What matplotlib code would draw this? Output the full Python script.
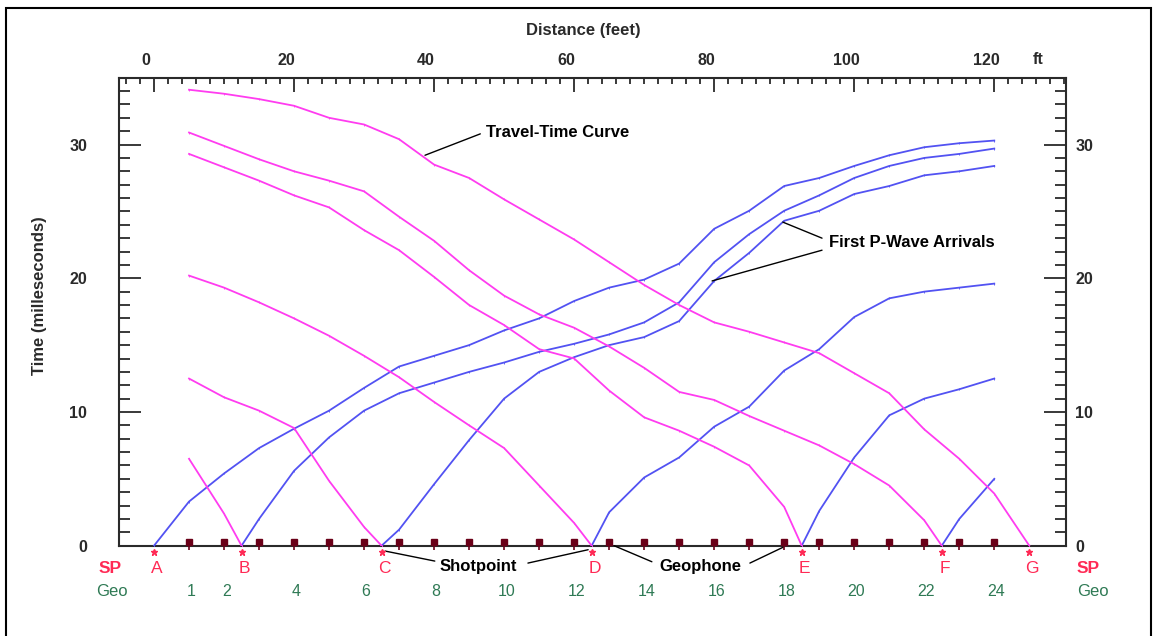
import matplotlib.pyplot as plt
import matplotlib.transforms as mtransforms
from matplotlib.patches import Rectangle
from matplotlib.ticker import MultipleLocator
import numpy as np

plt.rcParams['font.family'] = ['Liberation Sans', 'DejaVu Sans']

# Geophone positions along the line (feet) and the labels printed under them
geo_ft = [5, 10, 15, 20, 25, 30, 35, 40, 45, 50, 55, 60,
          65, 70, 75, 80, 85, 90, 95, 100, 105, 110, 115, 120]
geo_labels = ['1', '2', '', '4', '', '6', '', '8', '', '10', '', '12',
              '', '14', '', '16', '', '18', '', '20', '', '22', '', '24']

# Shotpoints (feet)
shot_ft = [0, 12.5, 32.5, 62.5, 92.5, 112.5, 125]
shot_names = ['A', 'B', 'C', 'D', 'E', 'F', 'G']

# First arrivals (ms) at the geophones to the RIGHT of each shot (blue curves)
fwd_A = [3.3, 5.4, 7.3, 8.75, 10.1, 11.8, 13.4, 14.2, 15.0, 16.1, 17.0, 18.3,
         19.3, 19.9, 21.1, 23.7, 25.05, 26.9, 27.5, 28.4, 29.2, 29.8, 30.1, 30.3]
fwd_B = [2.0, 5.6, 8.1, 10.1, 11.4, 12.2, 13.0, 13.7, 14.5, 15.1, 15.8,
         16.7, 18.2, 21.2, 23.3, 25.05, 26.2, 27.5, 28.4, 29.0, 29.3, 29.7]
fwd_C = [1.2, 4.6, 7.9, 11.0, 13.0, 14.1, 15.0, 15.6, 16.8, 19.8, 21.9,
         24.3, 25.05, 26.3, 26.9, 27.7, 28.0, 28.4]
fwd_D = [2.5, 5.1, 6.6, 8.9, 10.4, 13.1, 14.7, 17.1, 18.5, 19.0, 19.3, 19.6]
fwd_E = [2.6, 6.6, 9.75, 11.0, 11.7, 12.5]
fwd_F = [2.0, 5.0]

# First arrivals (ms) at the geophones to the LEFT of each shot (magenta curves)
rev_B = [6.5, 2.4]
rev_C = [12.5, 11.1, 10.1, 8.8, 4.85, 1.4]
rev_D = [20.2, 19.3, 18.2, 17.0, 15.7, 14.2, 12.6, 10.75, 9.0, 7.3, 4.5, 1.7]
rev_E = [29.3, 28.3, 27.3, 26.2, 25.3, 23.6, 22.1, 20.1, 18.0, 16.5, 14.7,
         14.0, 11.6, 9.6, 8.6, 7.4, 6.0, 2.9]
rev_F = [30.9, 29.9, 28.9, 28.0, 27.3, 26.5, 24.6, 22.8, 20.6, 18.7, 17.3,
         16.3, 14.9, 13.3, 11.5, 10.9, 9.7, 8.6, 7.5, 6.1, 4.5, 1.9]
rev_G = [34.1, 33.8, 33.4, 32.9, 32.0, 31.5, 30.4, 28.5, 27.5, 25.9, 24.4,
         22.9, 21.2, 19.5, 18.0, 16.7, 16.0, 15.2, 14.4, 12.9, 11.4, 8.7, 6.5, 3.9]

forward = {'A': fwd_A, 'B': fwd_B, 'C': fwd_C, 'D': fwd_D, 'E': fwd_E, 'F': fwd_F}
reverse = {'B': rev_B, 'C': rev_C, 'D': rev_D, 'E': rev_E, 'F': rev_F, 'G': rev_G}

BLUE = '#5252f2'
MAGENTA = '#ff3cf0'
SP_RED = '#ff2a55'
GEO_GREEN = '#2f7a55'
DARK = '#2a2a2a'
GEO_MARK = '#6a0018'

fig = plt.figure(figsize=(11.58, 6.36), dpi=100)
ax = fig.add_axes([119 / 1158, 1 - 545.7 / 636, (1065.7 - 119) / 1158, (545.7 - 77.7) / 636])

geo = np.array(geo_ft)

# travel-time curves
for name, sx in zip(shot_names, shot_ft):
    if name in forward:
        xs = [sx] + list(geo[geo > sx])
        ys = [0] + forward[name]
        ax.plot(xs, ys, color=BLUE, lw=1.3, marker='|', ms=2, mew=0.6, zorder=3)
    if name in reverse:
        xs = list(geo[geo < sx]) + [sx]
        ys = reverse[name] + [0]
        ax.plot(xs, ys, color=MAGENTA, lw=1.3, marker='|', ms=2, mew=0.6, zorder=3)

ax.set_xlim(-5, 130.2)
ax.set_ylim(0, 35)

# geophones on the line
ax.vlines(geo_ft, -0.35, 0.28, color=GEO_MARK, lw=1.2, clip_on=False, zorder=5)
ax.plot(geo_ft, [0.28] * len(geo_ft), ls='none', marker='s', ms=4.2,
        color=GEO_MARK, clip_on=False, zorder=6)

# shotpoints
ax.plot(shot_ft, [-0.47] * len(shot_ft), ls='none', marker='*', ms=5,
        color=SP_RED, clip_on=False, zorder=6)

for name, sx in zip(shot_names, shot_ft):
    ax.text(sx + 0.4, -1.74, name, color=SP_RED, fontsize=12.5, ha='center', va='center',
            clip_on=False)
for lbl, gx in zip(geo_labels, geo_ft):
    if lbl:
        ax.text(gx + 0.3, -3.39, lbl, color=GEO_GREEN, fontsize=11.5, ha='center',
                va='center', clip_on=False)

for x in (-6.3, 133.4):
    ax.text(x, -1.74, 'SP', color=SP_RED, fontsize=12.5, fontweight='bold',
            ha='center', va='center', clip_on=False)
for x in (-6.0, 134.1):
    ax.text(x, -3.39, 'Geo', color=GEO_GREEN, fontsize=12, ha='center',
            va='center', clip_on=False)

# spines and ticks
for sp in ax.spines.values():
    sp.set_color(DARK)
    sp.set_linewidth(1.5)

ax.xaxis.tick_top()
ax.set_xticks([0, 20, 40, 60, 80, 100, 120])
ax.xaxis.set_minor_locator(MultipleLocator(2))
ax.tick_params(axis='x', which='both', direction='in', top=True, bottom=False,
               labeltop=True, labelbottom=False, color=DARK, width=1.3)
ax.tick_params(axis='x', which='major', length=10, pad=7, labelsize=11.5,
               labelcolor=DARK)
ax.tick_params(axis='x', which='minor', length=4.5)

ax.set_yticks([0, 10, 20, 30])
ax.yaxis.set_minor_locator(MultipleLocator(1))
ax.tick_params(axis='y', which='both', direction='in', left=True, right=False,
               color=DARK, width=1.3)
ax.tick_params(axis='y', which='major', length=15.5, pad=23, labelsize=11.5,
               labelcolor=DARK)
ax.tick_params(axis='y', which='minor', length=8)

ax2 = ax.twinx()
ax2.set_ylim(0, 35)
ax2.set_yticks([0, 10, 20, 30])
ax2.yaxis.set_minor_locator(MultipleLocator(1))
ax2.tick_params(axis='y', which='both', direction='in', color=DARK, width=1.3)
ax2.tick_params(axis='y', which='major', length=15.5, pad=7, labelsize=11.5,
                labelcolor=DARK)
ax2.tick_params(axis='y', which='minor', length=8)
for sp in ax2.spines.values():
    sp.set_visible(False)

for t in ax.get_xticklabels() + ax.get_yticklabels() + ax2.get_yticklabels():
    t.set_fontweight('bold')

# top labels sit a little left of their ticks
shift = mtransforms.ScaledTranslation(-8 / 100, 0, fig.dpi_scale_trans)
for t in ax.get_xticklabels():
    t.set_transform(t.get_transform() + shift)

ax.text(126.3, 1.038, 'ft', transform=ax.get_xaxis_transform(), fontsize=11.5,
        fontweight='bold', color=DARK, ha='center', va='center')

fig.text(583 / 1158, 1 - 30 / 636, 'Distance (feet)', fontsize=12, fontweight='bold',
         color=DARK, ha='center', va='center')
fig.text(40 / 1158, 1 - 296 / 636, 'Time (milleseconds)', fontsize=12,
         fontweight='bold', color=DARK, ha='center', va='center', rotation=90)

# annotations
lead = dict(arrowstyle='-', color='black', lw=1.0, shrinkA=0, shrinkB=0)
ax.annotate('', xy=(38.7, 29.2), xytext=(46.6, 30.8), arrowprops=lead)
ax.text(47.4, 30.9, 'Travel-Time Curve', fontsize=12, fontweight='bold',
        ha='left', va='center')

ax.annotate('', xy=(89.8, 24.2), xytext=(95.4, 23.0), arrowprops=lead)
ax.annotate('', xy=(79.7, 19.8), xytext=(95.4, 22.1), arrowprops=lead)
ax.text(96.4, 22.7, 'First P-Wave Arrivals', fontsize=12, fontweight='bold',
        ha='left', va='center')

ax.annotate('', xy=(33.0, -0.4), xytext=(40.1, -1.15), arrowprops=lead,
            annotation_clip=False)
ax.annotate('', xy=(62.0, -0.3), xytext=(53.4, -1.3), arrowprops=lead,
            annotation_clip=False)
ax.text(46.3, -1.55, 'Shotpoint', fontsize=12, fontweight='bold',
        ha='center', va='center', clip_on=False)

ax.annotate('', xy=(65.7, 0.0), xytext=(71.1, -1.2), arrowprops=lead,
            annotation_clip=False)
ax.annotate('', xy=(89.9, -0.1), xytext=(85.1, -1.3), arrowprops=lead,
            annotation_clip=False)
ax.text(78.0, -1.55, 'Geophone', fontsize=12, fontweight='bold',
        ha='center', va='center', clip_on=False)

# outer frame
fig.add_artist(Rectangle((6 / 1158, -0.01), 1145 / 1158, 1 - 8 / 636 + 0.01,
                         transform=fig.transFigure, fill=False, ec='black', lw=1.5))

fig.savefig('out.png', dpi=100)
